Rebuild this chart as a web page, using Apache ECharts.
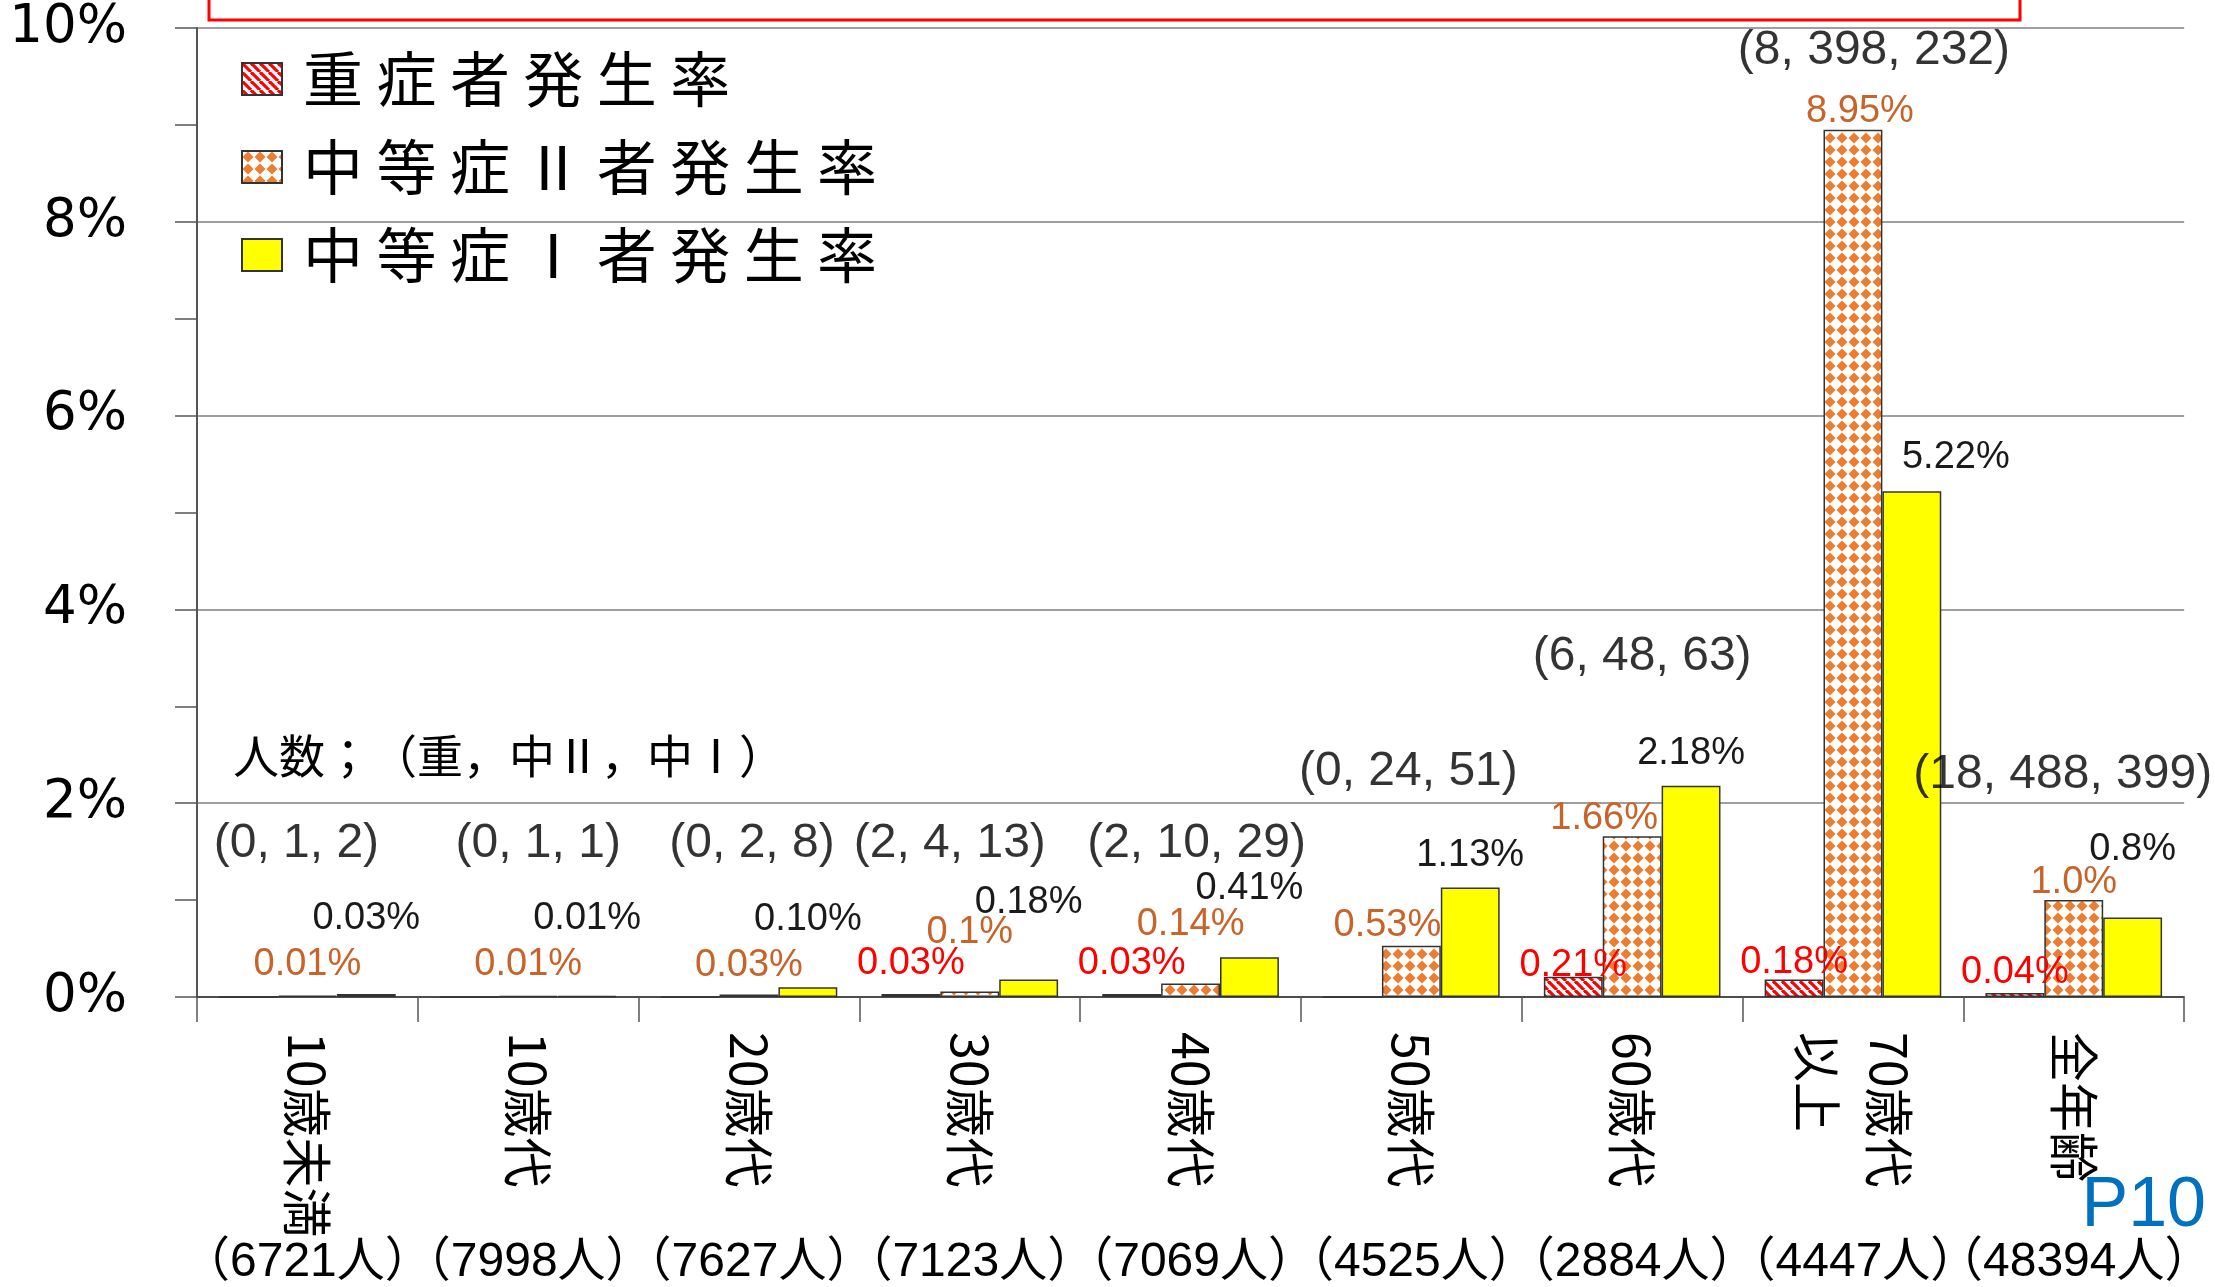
<!DOCTYPE html>
<html>
<head>
<meta charset="utf-8">
<script src="https://cdn.jsdelivr.net/npm/echarts@6.0.0/dist/echarts.min.js"></script>
<style>
  html, body { margin: 0; padding: 0; background: #fff; }
  #chart { width: 2215px; height: 1287px; }
</style>
</head>
<body>
<div id="chart"></div>
<script>
// 年代別の発生率（%）
const categories = ['10歳未満', '10歳代', '20歳代', '30歳代', '40歳代', '50歳代', '60歳代', '70歳代\n以上', '全年齢']
const populations = ['（6721人）', '（7998人）', '（7627人）', '（7123人）', '（7069人）', '（4525人）', '（2884人）', '（4447人）', '（48394人）']
const countLabels = ['(0, 1, 2)', '(0, 1, 1)', '(0, 2, 8)', '(2, 4, 13)', '(2, 10, 29)', '(0, 24, 51)', '(6, 48, 63)', '(8, 398, 232)', '(18, 488, 399)']

const severeRate = [0, 0, 0, 0.03, 0.03, 0, 0.21, 0.18, 0.04]
const moderate2Rate = [0.015, 0.0125, 0.026, 0.056, 0.14, 0.53, 1.66, 8.95, 1.0]
const moderate1Rate = [0.03, 0.0125, 0.10, 0.18, 0.41, 1.13, 2.18, 5.22, 0.82]

const severeLabels = ['', '', '', '0.03%', '0.03%', '', '0.21%', '0.18%', '0.04%']
const moderate2Labels = ['0.01%', '0.01%', '0.03%', '0.1%', '0.14%', '0.53%', '1.66%', '8.95%', '1.0%']
const moderate1Labels = ['0.03%', '0.01%', '0.10%', '0.18%', '0.41%', '1.13%', '2.18%', '5.22%', '0.8%']

const yTicks = [0, 2, 4, 6, 8, 10]

// ラベル位置の微調整（px）
const severeLift = [0, 0, 0, 32, 32, 0, 12, 18, 22]
const moderate2Lift = [32, 32, 30, 60, 60, 21, 19, 19, 19]
const moderate2Shift = [0, 0, 0, 0, 0, -24, -28, 7, 0]
const moderate1Lift = [77, 78, 69, 78, 70, 33, 33, 35, 69]
const moderate1Shift = [0, 0, 0, 0, 0, 0, 0, 44, 0]
const countLevel = [1.58, 1.58, 1.58, 1.58, 1.58, 2.32, 3.51, 9.76, 2.29]
const countShift = [-11, 10, 3, -20, 6, -3, 10, 21, -11]

const NUM_FONT = "'Liberation Sans', 'Noto Sans CJK JP', sans-serif"
const JP_FONT = "'Noto Sans CJK JP', sans-serif"

function hatchPattern() {
  const s = 9
  const c = document.createElement('canvas')
  c.width = s
  c.height = s
  const g = c.getContext('2d')
  g.fillStyle = '#fff'
  g.fillRect(0, 0, s, s)
  g.strokeStyle = '#FF0000'
  g.lineWidth = 3.2
  for (let x = -s; x <= s; x += s) {
    g.beginPath()
    g.moveTo(x, 0)
    g.lineTo(x + s, s)
    g.stroke()
  }
  return c
}

function diamondPattern() {
  const s = 12
  const c = document.createElement('canvas')
  c.width = s
  c.height = s
  const g = c.getContext('2d')
  g.fillStyle = '#fff'
  g.fillRect(0, 0, s, s)
  g.fillStyle = '#ED7D31'
  g.beginPath()
  g.moveTo(s / 2, 0.5)
  g.lineTo(s - 0.5, s / 2)
  g.lineTo(s / 2, s - 0.5)
  g.lineTo(0.5, s / 2)
  g.closePath()
  g.fill()
  return c
}

function barData(values, labels, lift, shift, color) {
  return values.map((v, i) => ({
    value: v,
    label: {
      show: labels[i] !== '',
      formatter: labels[i],
      color,
      offset: [shift ? shift[i] : 0, -(lift[i] - 20)],
    },
  }))
}

const chart = echarts.init(document.getElementById('chart'))

const barBase = {
  type: 'bar',
  barGap: '0%',
  barCategoryGap: '20%',
  label: {
    position: 'top',
    distance: 0,
    fontSize: 38,
    fontFamily: NUM_FONT,
  },
}

const option = {
  animation: false,
  backgroundColor: '#fff',
  grid: { left: 197, right: 22, top: 28, bottom: 282 },
  legend: {
    orient: 'vertical',
    left: 236,
    top: 43,
    itemWidth: 40,
    itemHeight: 32,
    itemGap: 26,
    icon: 'rect',
    formatter: name => name.split('').join(' '),
    textStyle: {
      fontSize: 60,
      lineHeight: 62,
      fontFamily: JP_FONT,
      color: '#000',
      padding: [0, 0, 0, 16],
    },
    data: ['重症者発生率', '中等症Ⅱ者発生率', '中等症Ⅰ者発生率'],
  },
  xAxis: [
    {
      type: 'category',
      data: categories,
      axisLine: { lineStyle: { color: '#333', width: 1.5 } },
      axisTick: { show: true, length: 25, lineStyle: { color: '#555', width: 1.5 } },
      axisLabel: {
        interval: 0,
        rotate: -90,
        margin: 35,
        fontSize: 50,
        lineHeight: 72,
        fontFamily: JP_FONT,
        color: '#000',
      },
    },
    {
      type: 'category',
      position: 'bottom',
      data: populations,
      axisLine: { show: false },
      axisTick: { show: false },
      axisLabel: {
        interval: 0,
        margin: 242,
        fontSize: 48,
        fontFamily: NUM_FONT,
        color: '#000',
      },
    },
  ],
  yAxis: {
    type: 'value',
    min: yTicks[0],
    max: yTicks[yTicks.length - 1],
    interval: yTicks[1] - yTicks[0],
    axisLine: { show: true, lineStyle: { color: '#555', width: 2 } },
    axisTick: { show: true, length: 22, lineStyle: { color: '#555', width: 1.5 } },
    minorTick: { show: true, splitNumber: 2, length: 22, lineStyle: { color: '#555', width: 1.5 } },
    splitLine: { lineStyle: { color: '#7f7f7f', width: 1.5 } },
    axisLabel: {
      margin: 70,
      fontSize: 53,
      fontFamily: "'DejaVu Sans', sans-serif",
      color: '#000',
      formatter: '{value}%',
    },
  },
  series: [
    {
      ...barBase,
      name: '重症者発生率',
      itemStyle: { color: { image: hatchPattern(), repeat: 'repeat' }, borderColor: '#333', borderWidth: 1.5 },
      data: barData(severeRate, severeLabels, severeLift, null, '#FF0000'),
    },
    {
      ...barBase,
      name: '中等症Ⅱ者発生率',
      itemStyle: { color: { image: diamondPattern(), repeat: 'repeat' }, borderColor: '#333', borderWidth: 1.5 },
      data: barData(moderate2Rate, moderate2Labels, moderate2Lift, moderate2Shift, '#C8642A'),
    },
    {
      ...barBase,
      name: '中等症Ⅰ者発生率',
      itemStyle: { color: '#FFFF00', borderColor: '#333', borderWidth: 1.5 },
      data: barData(moderate1Rate, moderate1Labels, moderate1Lift, moderate1Shift, '#1a1a1a'),
    },
    {
      type: 'scatter',
      silent: true,
      symbolSize: 1,
      itemStyle: { color: 'rgba(0,0,0,0)' },
      data: countLevel.map((v, i) => ({
        value: [i, v],
        label: { offset: [countShift[i], 0] },
      })),
      label: {
        show: true,
        position: 'inside',
        fontSize: 48,
        fontFamily: NUM_FONT,
        color: '#000',
        formatter: p => countLabels[p.dataIndex],
      },
    },
  ],
  graphic: [
    {
      type: 'rect',
      shape: { x: 209, y: -30, width: 1811, height: 50 },
      style: { fill: 'none', stroke: '#FF0000', lineWidth: 3 },
    },
    {
      type: 'text',
      left: 233,
      top: 737,
      style: { text: '人数；（重，中Ⅱ，中Ⅰ）', fontSize: 46, fontFamily: NUM_FONT, fill: '#000' },
    },
    {
      type: 'text',
      right: 9,
      top: 1172,
      style: { text: 'P10', fontSize: 70, fontFamily: "'Liberation Sans', sans-serif", fill: '#0070C0' },
    },
  ],
}

chart.setOption(option)
</script>
</body>
</html>
